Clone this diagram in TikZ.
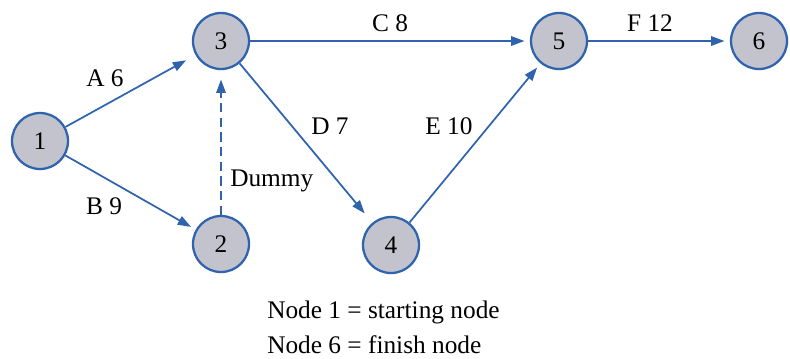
\documentclass[tikz,border=0pt]{standalone}
\usepackage{fontspec}
\setmainfont{Liberation Serif}
\usetikzlibrary{arrows.meta}
\definecolor{edgeblue}{HTML}{2F63AE}
\definecolor{nodefill}{HTML}{C3C3CE}
\tikzset{
  evt/.style={circle, draw=edgeblue, fill=nodefill, line width=1.7pt, minimum size=42pt, inner sep=0pt, font=\fontsize{19pt}{21pt}\selectfont},
  act/.style={draw=edgeblue, line width=1.3pt, -{Triangle[length=10pt,width=7pt]}, shorten >=4pt},
  lbl/.style={font=\fontsize{19pt}{21pt}\selectfont, inner sep=0pt},
}
\begin{document}
\begin{tikzpicture}[x=0.75pt,y=-0.75pt]
\useasboundingbox (0,0) rectangle (790,358);
\node[evt] (n1) at (40,141) {1};
\node[evt] (n3) at (221,41) {3};
\node[evt] (n2) at (221,244) {2};
\node[evt] (n4) at (391,245) {4};
\node[evt] (n5) at (559,41) {5};
\node[evt] (n6) at (759,41) {6};
\draw[act, shorten >=8pt] (n1) -- (n3);
\draw[act] (n1) -- (n2);
\draw[act, dashed, dash pattern=on 7pt off 4pt, shorten >=7pt] (n2) -- (n3);
\draw[act] (n3) -- (n5);
\draw[act, shorten >=9pt] (n3) -- (n4);
\draw[act] (n4) -- (n5);
\draw[act] (n5) -- (n6);
\node[lbl] (la) at (105,78) {A 6};
\node[lbl] (lb) at (104,206) {B 9};
\node[lbl] (lc) at (390,23) {C 8};
\node[lbl] (ld) at (330,126) {D 7};
\node[lbl] (le) at (449,126) {E 10};
\node[lbl] (lf) at (650,23) {F 12};
\node[lbl, anchor=west] (ldum) at (230,181) {Dummy};
\node[lbl, anchor=west] (t1) at (267,312) {Node 1 = starting node};
\node[lbl, anchor=west] (t2) at (267,345) {Node 6 = finish node};
\end{tikzpicture}
\end{document}
